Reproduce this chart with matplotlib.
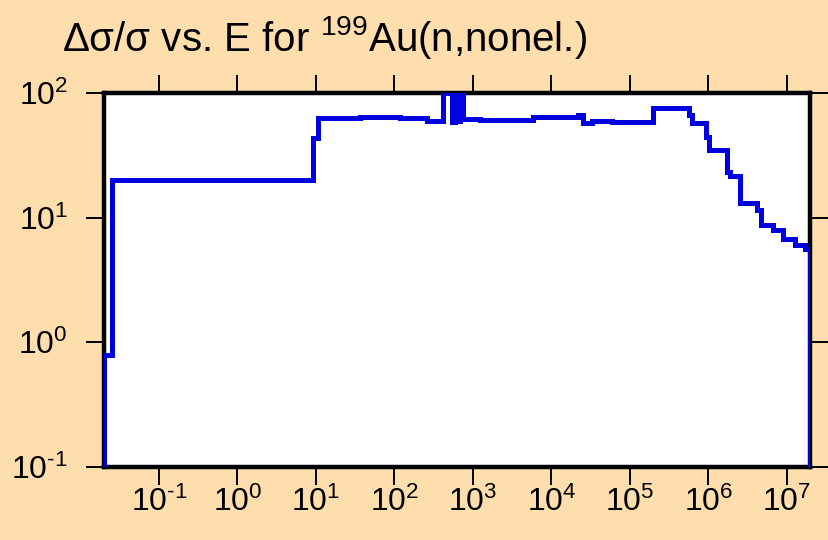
import matplotlib
matplotlib.use("Agg")
import matplotlib.pyplot as plt
from matplotlib.ticker import FuncFormatter
import numpy as np

plt.rcParams['font.family'] = ['Liberation Sans', 'DejaVu Sans']
plt.rcParams['mathtext.fontset'] = 'custom'
plt.rcParams['mathtext.rm'] = 'Liberation Sans'
plt.rcParams['mathtext.default'] = 'regular'
plt.rcParams['axes.unicode_minus'] = False

# group boundaries (eV) and relative uncertainty (%) in each group
edges = [0.0201, 0.0253, 9.25, 10.7, 36, 117, 257, 415, 535, 590, 620,
         640, 670, 690, 747, 1230, 5800, 21800, 25200, 32700, 60000,
         196000, 565000, 611000, 922000, 1.02e6, 1.72e6, 1.88e6, 2.52e6,
         4.11e6, 4.62e6, 6.58e6, 8.9e6, 1.26e7, 1.7e7, 1.99e7]
rel_unc = [0.79, 20.0, 43.5, 63.0, 64.5, 63.5, 59.6, 100.0, 58.0, 100.0,
           60.0, 100.0, 60.0, 100.0, 61.5, 60.5, 64.0, 66.0, 57.0, 60.0,
           58.5, 75.4, 66.0, 57.2, 44.6, 34.9, 23.4, 21.4, 13.1, 11.6,
           8.7, 8.0, 6.75, 6.05, 5.6]
x_decades = list(range(-1, 8))
y_decades = list(range(-1, 3))


def decade_label(v, pos):
    k = int(round(np.log10(v)))
    exp = r'\text{-}%d' % -k if k < 0 else '%d' % k
    return r'$10^{%s}$' % exp


bg = '#FFDEAD'
fig = plt.figure(figsize=(8.29, 5.40), dpi=100, facecolor=bg)
ax = fig.add_axes([104 / 829, 1 - 467 / 540, 706.5 / 829, 374 / 540])
ax.set_facecolor('white')

ax.stairs(rel_unc, edges, baseline=0.1, color='#0000E0', lw=3.6, zorder=3)

ax.set_xscale('log')
ax.set_yscale('log')
ax.set_xlim(0.02, 2.0e7)
ax.set_ylim(0.1, 100)

ax.set_xticks([10.0 ** k for k in x_decades])
ax.set_yticks([10.0 ** k for k in y_decades])
ax.minorticks_off()
ax.xaxis.set_major_formatter(FuncFormatter(decade_label))
ax.yaxis.set_major_formatter(FuncFormatter(decade_label))

for s in ax.spines.values():
    s.set_linewidth(3.2)
    s.set_color('black')

ax.tick_params(axis='both', which='major', direction='out', length=13,
               width=1.4, labelsize=23, top=True, right=True,
               labeltop=False, labelright=False)
ax.tick_params(axis='x', pad=1)
ax.tick_params(axis='y', pad=13)

fig.text(62 / 829, 1 - 51 / 540, 'Δσ/σ vs. E for $^{199}$Au(n,nonel.)',
         fontsize=29, ha='left', va='baseline')

fig.savefig('out.png', dpi=100, facecolor=bg)
